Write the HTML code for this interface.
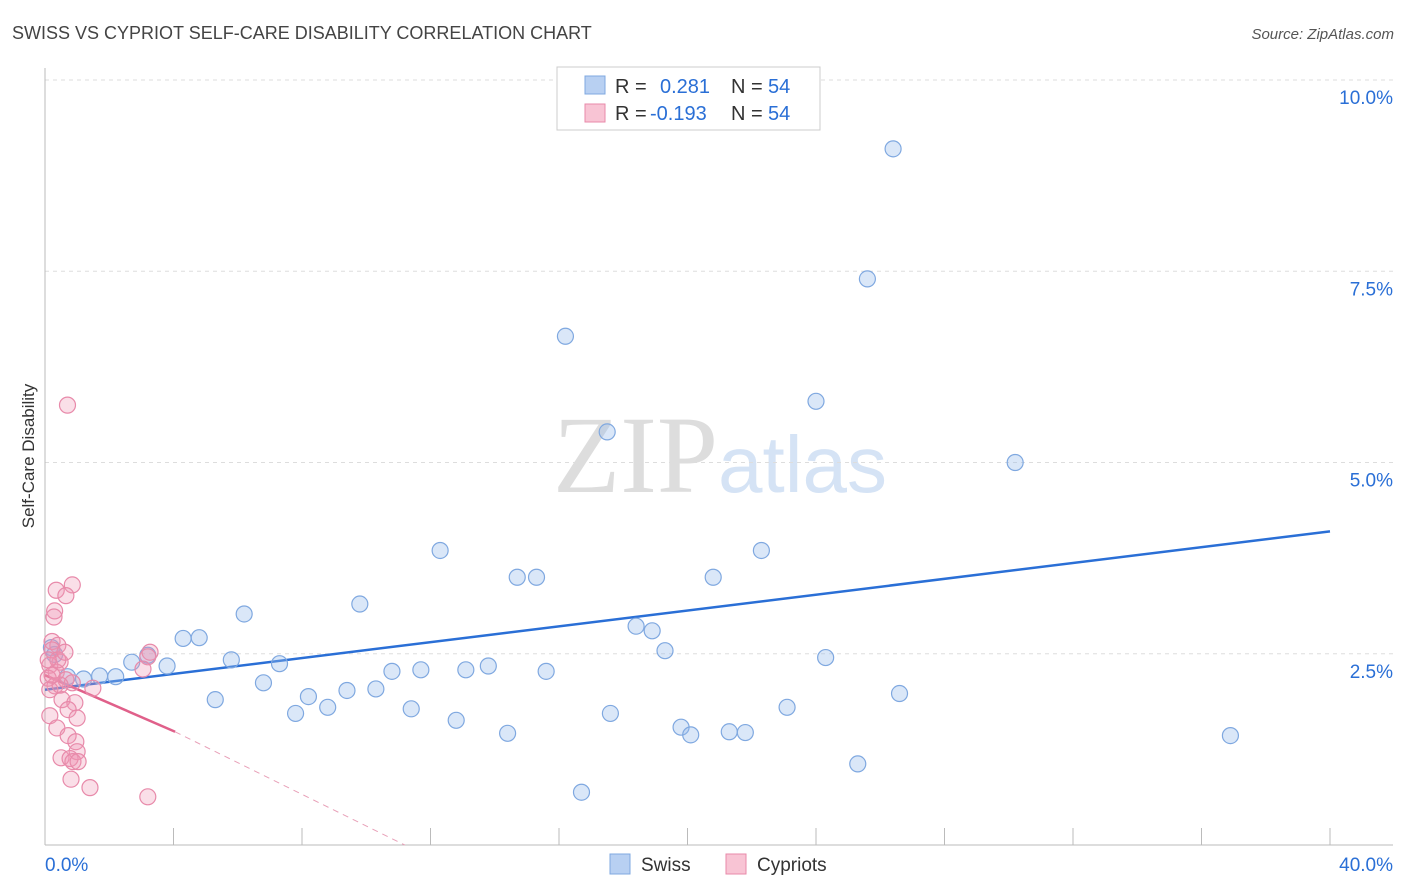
<!DOCTYPE html>
<html><head><meta charset="utf-8"><style>
body{margin:0;background:#fff;font-family:"Liberation Sans",sans-serif;}
svg{display:block}
</style></head><body>
<svg id="chart" width="1406" height="892">
<text x="12" y="39" font-size="18" fill="#444">SWISS VS CYPRIOT SELF-CARE DISABILITY CORRELATION CHART</text>
<text x="1394" y="39" font-size="15" fill="#555" text-anchor="end" font-style="italic">Source: ZipAtlas.com</text>
<text x="34" y="456" font-size="17" fill="#333" text-anchor="middle" transform="rotate(-90 34 456)">Self-Care Disability</text>
<text x="553" y="492" font-size="110" fill="#ddd" font-family="Liberation Serif,serif">ZIP</text>
<text x="718" y="492" font-size="80" fill="#d5e3f5">atlas</text>
<g id="grid"></g><g id="axes"></g><g id="trend"></g><g id="pts"></g>
<g>
<rect x="557" y="67" width="263" height="63" fill="#fff" stroke="#ccc"/>
<rect x="585" y="76" width="20" height="18" fill="#b8d0f2" stroke="#7fa8e0"/>
<rect x="585" y="104" width="20" height="18" fill="#f8c4d4" stroke="#e88aaa"/>
<text x="615" y="93" font-size="20" fill="#333">R =</text><text x="660" y="93" font-size="20" fill="#2a6fd6">0.281</text>
<text x="731" y="93" font-size="20" fill="#333">N =</text><text x="768" y="93" font-size="20" fill="#2a6fd6">54</text>
<text x="615" y="120" font-size="20" fill="#333">R =</text><text x="650" y="120" font-size="20" fill="#2a6fd6">-0.193</text>
<text x="731" y="120" font-size="20" fill="#333">N =</text><text x="768" y="120" font-size="20" fill="#2a6fd6">54</text>
</g>
<g>
<rect x="610" y="854" width="20" height="20" fill="#b8d0f2" stroke="#7fa8e0"/>
<text x="641" y="871" font-size="19" fill="#333">Swiss</text>
<rect x="726" y="854" width="20" height="20" fill="#f8c4d4" stroke="#e88aaa"/>
<text x="757" y="871" font-size="19" fill="#333">Cypriots</text>
</g>
</svg>
<script>
const yTicks=[2.5,5.0,7.5,10.0];
const xTickLabels=["0.0%","40.0%"];
const swissX=[26.4,25.6,16.2,24.0,17.5,30.2,12.3,22.3,14.7,15.3,20.8,9.8,6.2,18.4,18.9,4.3,4.8,19.3,24.3,3.2,2.7,3.8,5.8,7.3,13.8,11.7,10.8,13.1,15.6,1.7,2.2,0.7,1.2,6.8,9.4,10.3,8.2,5.3,26.6,8.8,11.4,7.8,17.6,23.1,12.8,19.8,14.4,20.1,21.3,21.8,36.9,25.3,16.7,0.2,0.3];
const swissY=[9.1,7.4,6.65,5.8,5.4,5.0,3.85,3.85,3.5,3.5,3.5,3.15,3.02,2.86,2.8,2.7,2.71,2.54,2.45,2.48,2.39,2.34,2.42,2.37,2.34,2.29,2.27,2.29,2.27,2.21,2.2,2.2,2.17,2.12,2.02,2.04,1.94,1.9,1.98,1.8,1.78,1.72,1.72,1.8,1.63,1.54,1.46,1.44,1.48,1.47,1.43,1.06,0.69,2.58,2.49];
const cypX=[0.7,0.85,0.35,0.65,0.3,0.28,0.22,0.4,3.27,3.2,0.22,0.47,0.15,3.05,0.35,0.1,0.65,0.85,0.31,1.49,0.53,0.93,0.15,0.72,1.0,0.37,0.72,0.96,1.0,0.5,0.78,0.87,1.03,0.81,1.4,3.2,0.15,0.47,0.22,0.4,0.62,0.1];
const cypY=[5.75,3.4,3.33,3.26,3.06,2.98,2.66,2.61,2.52,2.46,2.55,2.39,2.35,2.3,2.26,2.18,2.16,2.12,2.08,2.05,1.9,1.86,1.69,1.77,1.66,1.53,1.43,1.35,1.22,1.14,1.13,1.09,1.09,0.86,0.75,0.63,2.03,2.09,2.22,2.42,2.52,2.42];
const swissTrend=[[0,2.03],[40,4.1]];
const cypTrend=[[0,2.22],[4.05,1.48]];
const cypDash=[[4.05,1.48],[11.2,0]];
const NS="http://www.w3.org/2000/svg";
const X=v=>45+v/40*1285, Y=v=>845-v/10*765;
function mk(t,a,p){const e=document.createElementNS(NS,t);for(const k in a)e.setAttribute(k,a[k]);p.appendChild(e);return e;}
const grid=document.getElementById('grid'),axes=document.getElementById('axes'),tr=document.getElementById('trend'),pts=document.getElementById('pts');
yTicks.forEach(v=>{
 const l=mk('line',{x1:45,x2:1393,y1:Y(v),y2:Y(v),stroke:'#ddd','stroke-dasharray':'4,4'},grid);
 
 
 const t=mk('text',{x:1393,y:Y(v)+24,'font-size':19,fill:'#2a6fd6','text-anchor':'end'},grid);
 t.textContent=v.toFixed(1)+'%';
 
 
});
mk('line',{x1:45,x2:45,y1:68,y2:845,stroke:'#bbb'},axes);
mk('line',{x1:45,x2:1393,y1:845,y2:845,stroke:'#bbb'},axes);
for(let i=0;i<=10;i++){const tk=mk('line',{x1:X(i*4),x2:X(i*4),y1:828,y2:845,stroke:'#bbb'},axes);
 
 }
xTickLabels.forEach((s,i)=>{const t=mk('text',{x:i?1393:45,y:871,'font-size':19,fill:'#2a6fd6','text-anchor':i?'end':'start'},axes);t.textContent=s;
 
 });
swissX.forEach((x,i)=>{const c=mk('circle',{cx:X(x),cy:Y(swissY[i]),r:8,fill:'rgba(150,185,235,0.35)',stroke:'#7fa8e0','stroke-width':1.2},pts);
 
 });
cypX.forEach((x,i)=>{const c=mk('circle',{cx:X(x),cy:Y(cypY[i]),r:8,fill:'rgba(240,150,180,0.3)',stroke:'#e88aaa','stroke-width':1.2},pts);
 
 });
const l1=mk('line',{x1:X(swissTrend[0][0]),y1:Y(swissTrend[0][1]),x2:X(swissTrend[1][0]),y2:Y(swissTrend[1][1]),stroke:'#2a6fd6','stroke-width':2.5},tr);


const l2=mk('line',{x1:X(cypTrend[0][0]),y1:Y(cypTrend[0][1]),x2:X(cypTrend[1][0]),y2:Y(cypTrend[1][1]),stroke:'#e0608a','stroke-width':2.5},tr);


const l3=mk('line',{x1:X(cypDash[0][0]),y1:Y(cypDash[0][1]),x2:X(cypDash[1][0]),y2:Y(cypDash[1][1]),stroke:'#e8a0b8','stroke-width':1,'stroke-dasharray':'6,5'},tr);


</script>
</body></html>
